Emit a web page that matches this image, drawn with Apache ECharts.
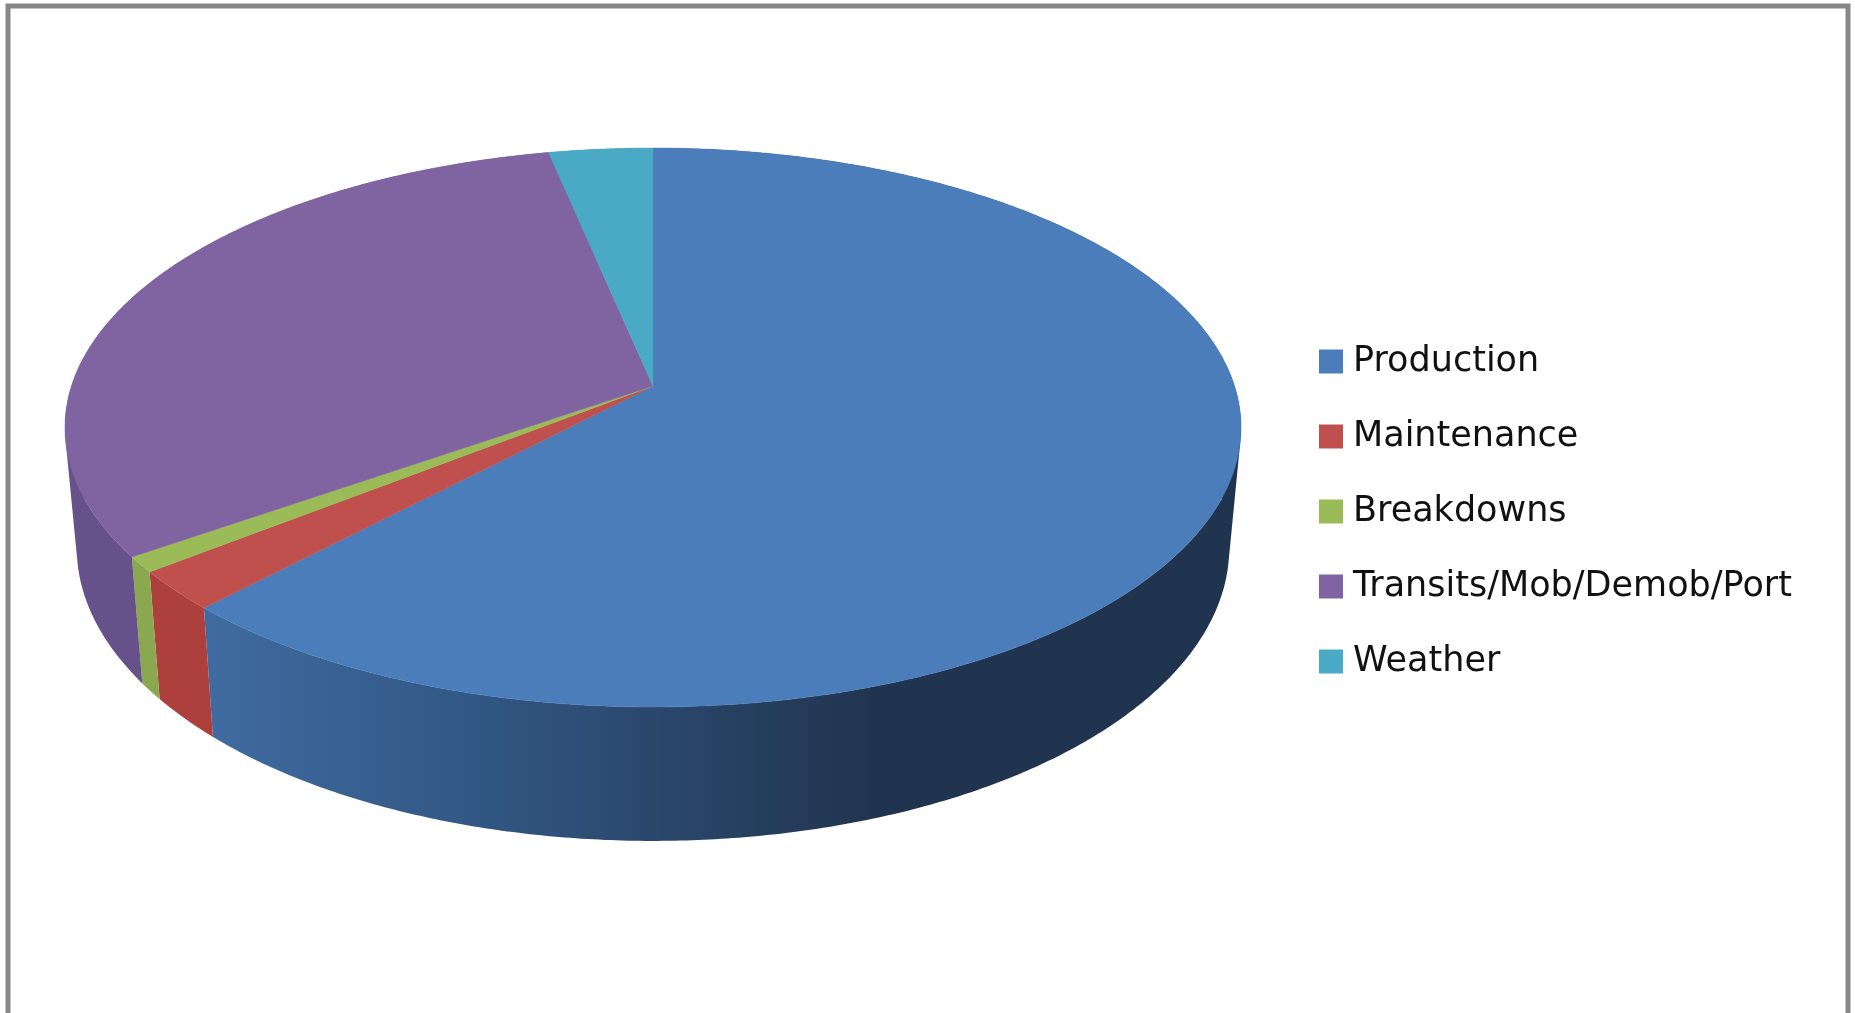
<!DOCTYPE html>
<html>
<head>
<meta charset="utf-8">
<style>html,body{margin:0;padding:0;background:#fff}#main{width:1855px;height:1013px}</style>
<script src="https://cdn.jsdelivr.net/npm/echarts@6/dist/echarts.min.js"></script>
</head>
<body>
<div id="main"></div>
<script>
// Share of vessel time by activity, percent
const categories = ['Production', 'Maintenance', 'Breakdowns', 'Transits/Mob/Demob/Port', 'Weather'];
const shares = [62.1, 2.3, 0.9, 31.4, 3.3];
const topColors = ['#4a7dba', '#c0504d', '#9bbb59', '#8064a2', '#4aa9c4'];
const sideColors = ['#3f6ba0', '#ad403c', '#8aa84f', '#67518a', '#3f8fa6'];

// Perspective disc: hub position, radii before foreshortening, tilt strength
const disc = { x: 653, y: 386, rx: 581.5, ry: 273.3, tilt: 0.1485 };
// Rim of the underside, relative to the rim of the top face
const under = { sx: 0.98, sy: 1.05, dy: 98.6 };

function rimPoint(frac) {
  const a = frac * 2 * Math.PI;
  const u = Math.sin(a), v = Math.cos(a);
  const w = 1 + disc.tilt * v;
  return [disc.x + disc.rx * u / w, disc.y - disc.ry * v / w];
}
function underPoint(p) {
  return [disc.x + under.sx * (p[0] - disc.x), p[1] * under.sy + under.dy];
}
function arc(from, to) {
  const n = Math.max(4, Math.ceil((to - from) * 720));
  const pts = [];
  for (let i = 0; i <= n; i++) pts.push(rimPoint(from + (to - from) * i / n));
  return pts;
}

const total = shares.reduce((s, v) => s + v, 0);
const starts = [];
shares.reduce((s, v, i) => { starts[i] = s; return s + v; }, 0);

// Rim wall shading for the large slice: lit on the left, dark past the front
const wallFill = (i) => i === 0
  ? new echarts.graphic.LinearGradient(213, 0, 875, 0, [
      { offset: 0, color: '#3f6ba0' },
      { offset: 0.45, color: '#30547f' },
      { offset: 1, color: '#21344f' }
    ], true)
  : sideColors[i];

function quadArea(q) {
  let s = 0;
  q.forEach((p, k) => {
    const n = q[(k + 1) % q.length];
    s += p[0] * n[1] - n[0] * p[1];
  });
  return s;
}

// The wall is swept as thin quads, all wound one way, so that its outline
// follows the hull of both rims under the non-zero fill rule
function wallItem(i) {
  return () => {
    const from = starts[i] / total, to = (starts[i] + shares[i]) / total;
    const top = arc(from, to);
    const fmt = (p) => p[0].toFixed(2) + ' ' + p[1].toFixed(2);
    let d = '';
    for (let k = 0; k + 1 < top.length; k++) {
      const q = [top[k], top[k + 1], underPoint(top[k + 1]), underPoint(top[k])];
      if (quadArea(q) < 0) q.reverse();
      d += 'M' + q.map(fmt).join('L') + 'Z';
    }
    return { type: 'path', shape: { pathData: d }, style: { fill: wallFill(i) } };
  };
}
function faceItem(i) {
  return () => {
    const from = starts[i] / total, to = (starts[i] + shares[i]) / total;
    return {
      type: 'polygon',
      shape: { points: [[disc.x, disc.y]].concat(arc(from, to)) },
      style: { fill: topColors[i], stroke: topColors[i], lineWidth: 0.5 }
    };
  };
}

const series = [];
categories.forEach((name, i) => {
  series.push({
    type: 'custom', name, coordinateSystem: 'none', z: 3,
    itemStyle: { color: topColors[i] }, data: [shares[i]], renderItem: faceItem(i), silent: true
  });
});
categories.forEach((name, i) => {
  series.push({
    type: 'custom', name: name + ' rim', coordinateSystem: 'none', z: 2,
    itemStyle: { color: sideColors[i] }, data: [shares[i]], renderItem: wallItem(i), silent: true
  });
});

const chart = echarts.init(document.getElementById('main'), null, { renderer: 'canvas' });
chart.setOption({
  animation: false,
  backgroundColor: '#ffffff',
  legend: {
    orient: 'vertical', left: 1319, top: 344, data: categories,
    icon: 'rect', itemWidth: 24, itemHeight: 24, itemGap: 40, padding: 0,
    selectedMode: false,
    textStyle: { fontFamily: 'DejaVu Sans', fontSize: 35, color: '#111111', padding: [0, 0, 0, 5] }
  },
  graphic: [{
    type: 'polyline',
    shape: { points: [[8, 1030], [8, 6], [1848, 6], [1848, 1030]] },
    style: { fill: null, stroke: '#868686', lineWidth: 5 }
  }],
  series
});
</script>
</body>
</html>
